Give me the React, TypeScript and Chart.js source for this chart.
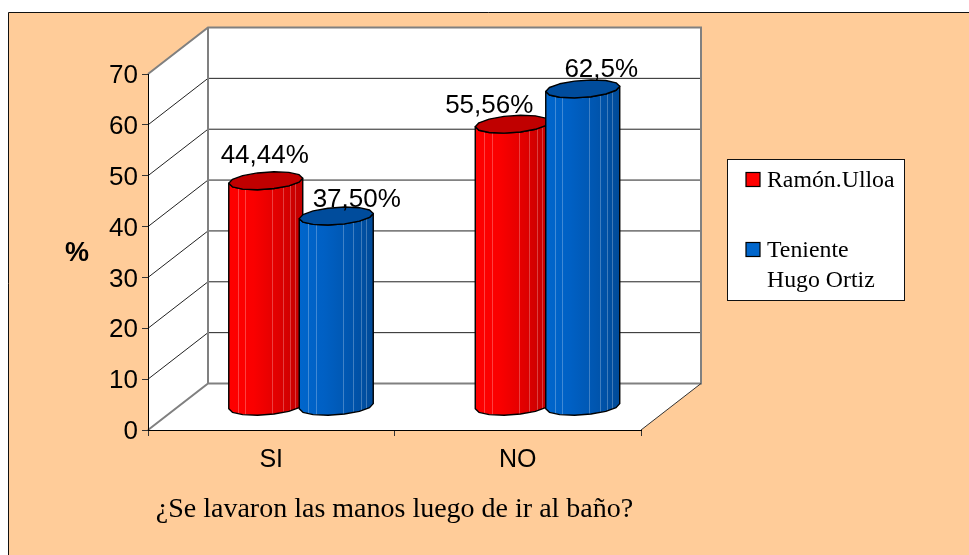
import React, { useEffect, useRef } from "react";
import { Chart, registerables } from "chart.js";

Chart.register(...registerables);

// ---- data ----
const categories = ["SI", "NO"];
const ramonUlloa = [44.44, 55.56];
const tenienteHugoOrtiz = [37.5, 62.5];
const ramonLabels = ["44,44%", "55,56%"];
const tenienteLabels = ["37,50%", "62,5%"];
const seriesNames = ["Ramón.Ulloa", "Teniente Hugo Ortiz"];
const legendLines = [["Ramón.Ulloa"], ["Teniente", "Hugo Ortiz"]];
const xTitle = "¿Se lavaron las manos luego de ir al baño?";
const yTitle = "%";

// ---- style ----
const PEACH = "#FFCC99";
const GREY = "#808080";
const DEPTH_X = 60;
const DEPTH_Y = -46.5;
const ARIAL = '"Liberation Sans", Arial, sans-serif';
const TIMES = '"Liberation Serif", "Times New Roman", serif';
const faces = [
  { top: "#C00000", stops: ["#FF0000", "#FA0000", "#E00000", "#C00000"] },
  { top: "#004C9C", stops: ["#0066CC", "#0060C4", "#0056B0", "#004A98"] },
];
const facetLines = [0.12, 0.22, 0.59, 0.73, 0.83, 0.9];
const labelOffsets = [
  [[-1, -18], [-23, -11.5]],
  [[20, -9.5], [18, -12]],
];
const seriesLabels = [ramonLabels, tenienteLabels];

function capPoint(cx: number, cy: number, a: number, t: number) {
  return [cx + a * Math.cos(t), cy - 2.6 * Math.cos(t) - 8.6 * Math.sin(t)];
}

const wallsPlugin = {
  id: "walls",
  beforeDraw(chart: any) {
    const { ctx, width, height } = chart;
    const x = chart.scales.x;
    const y = chart.scales.y;
    const L = x.left;
    const R = x.right;
    const B = y.bottom;
    const T = y.top;
    const bx = DEPTH_X;
    const by = DEPTH_Y;
    ctx.save();
    ctx.fillStyle = "#FFFFFF";
    ctx.fillRect(0, 0, width, height);
    ctx.fillStyle = PEACH;
    ctx.fillRect(8.5, 12.5, width, height);
    ctx.strokeStyle = "#111";
    ctx.lineWidth = 1;
    ctx.beginPath();
    ctx.moveTo(8.5, height);
    ctx.lineTo(8.5, 12.5);
    ctx.lineTo(width, 12.5);
    ctx.stroke();

    ctx.fillStyle = "#FFFFFF";
    ctx.beginPath();
    ctx.moveTo(L, B);
    ctx.lineTo(L, T);
    ctx.lineTo(L + bx, T + by);
    ctx.lineTo(R + bx, T + by);
    ctx.lineTo(R + bx, B + by);
    ctx.lineTo(R, B);
    ctx.closePath();
    ctx.fill();

    // grid lines on side and back walls
    y.ticks.forEach((tk: any) => {
      const p = y.getPixelForValue(tk.value);
      if (tk.value !== y.min && tk.value !== y.max) {
        ctx.strokeStyle = "#222";
        ctx.lineWidth = 1;
        ctx.beginPath();
        ctx.moveTo(L, p);
        ctx.lineTo(L + bx, p + by);
        ctx.lineTo(R + bx, p + by);
        ctx.stroke();
      }
    });

    ctx.strokeStyle = GREY;
    ctx.lineWidth = 2;
    ctx.beginPath();
    ctx.moveTo(L, T);
    ctx.lineTo(L + bx, T + by);
    ctx.lineTo(R + bx, T + by);
    ctx.lineTo(R + bx, B + by);
    ctx.lineTo(L + bx, B + by);
    ctx.lineTo(L, B);
    ctx.moveTo(L + bx, T + by);
    ctx.lineTo(L + bx, B + by);
    ctx.stroke();

    ctx.strokeStyle = "#333";
    ctx.lineWidth = 1;
    ctx.beginPath();
    ctx.moveTo(R, B);
    ctx.lineTo(R + bx, B + by);
    ctx.stroke();
    ctx.restore();
  },
};

const cylindersPlugin = {
  id: "cylinders",
  afterDatasetsDraw(chart: any) {
    const { ctx } = chart;
    ctx.save();
    ctx.lineJoin = "round";
    categories.forEach((_, c) => {
      [0, 1].forEach((s) => {
        const bar = chart.getDatasetMeta(s).data[c];
        const a = bar.width / 2 + 1.5;
        const cx = bar.x + DEPTH_X / 2 - (s === 1 ? 0.5 : 0);
        const topY = bar.y + DEPTH_Y / 2;
        const botY = bar.base + DEPTH_Y / 2;
        const N = 14;
        const body = new Path2D();
        const p0 = capPoint(cx, topY, a, Math.PI);
        body.moveTo(p0[0], p0[1]);
        for (let i = 0; i <= N / 2; i++) {
          const t = Math.PI + (i / (N / 2)) * Math.PI;
          const q = capPoint(cx, botY, a, t);
          body.lineTo(q[0], q[1]);
        }
        const p1 = capPoint(cx, topY, a, 0);
        body.lineTo(p1[0], p1[1]);
        for (let i = N / 2; i >= 0; i--) {
          const t = Math.PI + (i / (N / 2)) * Math.PI;
          const q = capPoint(cx, topY, a, t);
          body.lineTo(q[0], q[1]);
        }
        body.closePath();
        const g = ctx.createLinearGradient(cx - a, 0, cx + a, 0);
        const st = faces[s].stops;
        st.forEach((col, i) => g.addColorStop(i / (st.length - 1), col));
        ctx.fillStyle = g;
        ctx.fill(body);

        ctx.save();
        ctx.clip(body);
        ctx.strokeStyle = "rgba(255,255,255,0.25)";
        ctx.lineWidth = 1;
        facetLines.forEach((f) => {
          const lx = Math.round(cx - a + f * 2 * a) + 0.5;
          ctx.beginPath();
          ctx.moveTo(lx, topY - 12);
          ctx.lineTo(lx, botY + 12);
          ctx.stroke();
        });
        ctx.restore();

        ctx.strokeStyle = "#000";
        ctx.lineWidth = 1.4;
        ctx.stroke(body);

        const cap = new Path2D();
        for (let i = 0; i < N; i++) {
          const t = (i / N) * Math.PI * 2;
          const q = capPoint(cx, topY, a, t);
          if (i === 0) cap.moveTo(q[0], q[1]);
          else cap.lineTo(q[0], q[1]);
        }
        cap.closePath();
        ctx.fillStyle = faces[s].top;
        ctx.fill(cap);
        ctx.stroke(cap);
      });
    });

    // value labels
    ctx.fillStyle = "#000";
    ctx.font = "26px " + ARIAL;
    ctx.textAlign = "center";
    ctx.textBaseline = "alphabetic";
    categories.forEach((_, c) => {
      [0, 1].forEach((s) => {
        const bar = chart.getDatasetMeta(s).data[c];
        const off = labelOffsets[s][c];
        ctx.fillText(
          seriesLabels[s][c],
          bar.x + DEPTH_X / 2 + off[0],
          bar.y + DEPTH_Y / 2 + off[1]
        );
      });
    });
    ctx.restore();
  },
};

const legendBoxPlugin = {
  id: "legendBox",
  afterDraw(chart: any) {
    const { ctx } = chart;
    ctx.save();
    ctx.fillStyle = "#FFFFFF";
    ctx.strokeStyle = "#111";
    ctx.lineWidth = 1;
    ctx.fillRect(727.5, 159.5, 177, 141);
    ctx.strokeRect(727.5, 159.5, 177, 141);
    const rows = [186.5, 256.5];
    legendLines.forEach((lines, i) => {
      ctx.fillStyle = faces[i].stops[0];
      ctx.fillRect(746, rows[i] - 14, 14, 14);
      ctx.strokeStyle = "#000";
      ctx.lineWidth = 1.2;
      ctx.strokeRect(746, rows[i] - 14, 14, 14);
      ctx.fillStyle = "#000";
      ctx.font = "23.8px " + TIMES;
      ctx.textAlign = "left";
      ctx.textBaseline = "alphabetic";
      lines.forEach((ln, j) => ctx.fillText(ln, 767, rows[i] + j * 30));
    });
    // horizontal y axis title
    ctx.fillStyle = "#000";
    ctx.font = "bold 27px " + ARIAL;
    ctx.textAlign = "center";
    ctx.textBaseline = "middle";
    ctx.fillText(yTitle, 77, chart.scales.y.getPixelForValue(35) + 2);
    ctx.restore();
  },
};

export default function App() {
  const ref = useRef<HTMLCanvasElement | null>(null);
  useEffect(() => {
    document.body.style.margin = "0";
    const chart = new Chart(ref.current as HTMLCanvasElement, {
      type: "bar",
      data: {
        labels: categories,
        datasets: [
          { label: seriesNames[0], data: ramonUlloa, backgroundColor: "rgba(0,0,0,0)", categoryPercentage: 0.576, barPercentage: 1 },
          { label: seriesNames[1], data: tenienteHugoOrtiz, backgroundColor: "rgba(0,0,0,0)", categoryPercentage: 0.576, barPercentage: 1 },
        ],
      },
      options: {
        responsive: false,
        animation: false,
        maintainAspectRatio: false,
        layout: { padding: { left: 0, top: 74, right: 328, bottom: 0 } },
        plugins: { legend: { display: false }, tooltip: { enabled: false } },
        scales: {
          x: {
            offset: true,
            afterFit(s: any) {
              s.height = 125;
            },
            border: { display: true, color: "#000", width: 1 },
            grid: { offset: true, drawOnChartArea: false, drawTicks: true, tickLength: 6, tickColor: "#333" },
            ticks: { color: "#000", padding: 9, font: { family: ARIAL, size: 25 }, maxRotation: 0 },
            title: {
              display: true,
              text: xTitle,
              color: "#000",
              font: { family: TIMES, size: 28 },
              padding: { top: 0, bottom: 29 },
            },
          },
          y: {
            min: 0,
            max: 70,
            afterFit(s: any) {
              s.width = 148;
            },
            border: { display: true, color: "#000", width: 1 },
            grid: { drawOnChartArea: false, drawTicks: true, tickLength: 6, tickColor: "#333" },
            ticks: {
              stepSize: 10,
              color: "#000",
              padding: 4,
              font: { family: ARIAL, size: 26, lineHeight: "4px" },
              callback: (v: any) => ["", String(v)],
            },
          },
        },
      },
      plugins: [wallsPlugin, cylindersPlugin, legendBoxPlugin],
    } as any);
    return () => chart.destroy();
  }, []);
  return (
    <canvas
      ref={ref}
      width={969}
      height={555}
      style={{ position: "fixed", left: 0, top: 0, display: "block", width: 969, height: 555 }}
    />
  );
}
